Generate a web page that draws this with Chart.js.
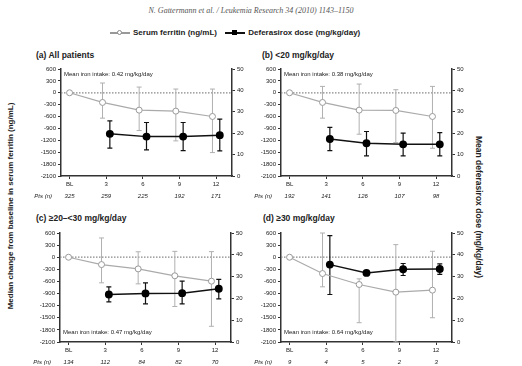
<!DOCTYPE html>
<html>
<head>
<meta charset="utf-8">
<script src="https://cdn.jsdelivr.net/npm/chart.js@4.4.1/dist/chart.umd.min.js"></script>
<style>
  body { margin: 0; background: #fff; width: 522px; height: 366px; overflow: hidden; position: relative; font-family: 'Liberation Sans', Arial, sans-serif; }
  canvas { position: absolute; }
  .txt { position: absolute; white-space: nowrap; color: #222; }
  .hdr { left: 0; width: 502px; top: 6px; text-align: center; font: italic 8px 'Liberation Serif', serif; color: #555; }
  .leg { top: 28px; left: 110px; font-weight: bold; font-size: 8px; }
  .lk { display: inline-block; position: relative; width: 20px; height: 9px; vertical-align: middle; margin-right: 3px; }
  .lk .ln { position: absolute; left: 0; right: 0; top: 4px; height: 1.2px; }
  .lk .mk { position: absolute; left: 7px; top: 2px; width: 5px; height: 5px; box-sizing: border-box; }
  .ptitle { font-weight: bold; font-size: 8.5px; }
  .ytitle { font-weight: bold; font-size: 8px; transform: translate(-50%, -50%) rotate(-90deg); }
  .y2title { font-weight: bold; font-size: 8.5px; transform: translate(-50%, -50%) rotate(90deg); }
</style>
</head>
<body>
<div class="txt hdr">N. Gattermann et al. / Leukemia Research 34 (2010) 1143–1150</div>
<div class="txt leg">
  <span class="lk"><i class="ln" style="background:#999"></i><i class="mk" style="border:1px solid #888;background:#fff;border-radius:50%"></i></span>Serum ferritin (ng/mL)
  <span class="lk" style="margin-left:6px"><i class="ln" style="background:#111"></i><i class="mk" style="background:#000"></i></span>Deferasirox dose (mg/kg/day)
</div>
<div class="txt ptitle" style="left:36px;top:50px">(a) All patients</div>
<div class="txt ptitle" style="left:262px;top:50px">(b) &lt;20 mg/kg/day</div>
<div class="txt ptitle" style="left:36px;top:213px">(c) ≥20–&lt;30 mg/kg/day</div>
<div class="txt ptitle" style="left:263px;top:213px">(d) ≥30 mg/kg/day</div>
<div class="txt ytitle" style="left:10px;top:206px">Median change from baseline in serum ferritin (ng/mL)</div>
<div class="txt y2title" style="left:479px;top:207px">Mean deferasirox dose (mg/kg/day)</div>

<canvas id="pa" width="240" height="138" style="left:20px;top:62px"></canvas>
<canvas id="pb" width="240" height="138" style="left:240px;top:62px"></canvas>
<canvas id="pc" width="240" height="140" style="left:19px;top:226px"></canvas>
<canvas id="pd" width="240" height="140" style="left:240px;top:226px"></canvas>

<script>
const months = [0, 3, 6, 9, 12];
const monthLabels = ['BL', '3', '6', '9', '12'];
const ferritinTicks = [600, 300, 0, -300, -600, -900, -1200, -1500, -1800, -2100];
const doseTicks = [0, 10, 20, 30, 40, 50];

// (a) all patients
const ferritinA = [0, -244, -438, -463, -598];
const ferritinLoA = [null, -640, -953, -1214, -1509];
const ferritinHiA = [null, 246, 144, 94, 94];
const doseA = [null, 19.7, 18.4, 18.4, 19.1];
const doseLoA = [null, 13, 12.2, 11.9, 11.7];
const doseHiA = [null, 25.8, 25, 25, 26.6];
const ptsA = [325, 259, 225, 192, 171];

// (b) <20
const ferritinB = [0, -244, -438, -446, -598];
const ferritinLoB = [null, -640, -1045, -1256, -1400];
const ferritinHiB = [null, 161, 220, 77, 161];
const doseB = [null, 17.3, 15.3, 14.8, 14.8];
const doseLoB = [null, 11.9, 9.4, 9.4, 9.4];
const doseHiB = [null, 22.7, 20.8, 20, 20.3];
const ptsB = [192, 141, 126, 107, 98];

// (c) >=20-<30
const ferritinC = [0, -182, -289, -460, -593];
const ferritinLoC = [null, -634, -660, -1220, -1711];
const ferritinHiC = [null, 477, 135, 145, 139];
const doseC = [null, 21.8, 22.3, 22.4, 24.4];
const doseLoC = [null, 18.4, 17.5, 17.5, 19.8];
const doseHiC = [null, 25.3, 27.1, 27.9, 28.7];
const ptsC = [134, 112, 84, 82, 70];

// (d) >=30
const ferritinD = [0, -404, -676, -865, -816];
const ferritinLoD = [null, -733, -1622, -2100, -1499];
const ferritinHiD = [null, 600, -536, 312, 147];
const doseD = [null, 35.5, 31.7, 33.4, 33.5];
const doseLoD = [null, 21.8, 30.8, 30.5, 31];
const doseHiD = [null, 48.8, 32.5, 36, 35.8];
const ptsD = [9, 4, 5, 2, 3];

const ironIntake = ['0.42', '0.38', '0.47', '0.64'];

const FONT = "'Liberation Sans', Arial, sans-serif";
const AX = '#333';

function points(vals, lo, hi, shift) {
    const out = [];
    months.forEach((m, i) => {
        if (vals[i] === null) return;
        out.push({ x: m === 0 ? 0 : m + shift, y: vals[i], lo: lo[i], hi: hi[i] });
    });
    return out;
}

const panelExtras = {
    id: 'panelExtras',
    beforeDatasetsDraw(chart) {
        const ctx = chart.ctx, a = chart.chartArea;
        const ys = chart.scales.y;
        // dotted zero line
        const y0 = ys.getPixelForValue(0);
        ctx.save();
        ctx.strokeStyle = '#888';
        ctx.lineWidth = 1.2;
        ctx.setLineDash([1.5, 1.5]);
        ctx.beginPath();
        ctx.moveTo(a.left, y0);
        ctx.lineTo(a.right, y0);
        ctx.stroke();
        ctx.setLineDash([]);
        // error bars
        chart.data.datasets.forEach((ds, di) => {
            const meta = chart.getDatasetMeta(di);
            const sc = chart.scales[ds.yAxisID];
            ctx.strokeStyle = ds.errColor;
            ctx.lineWidth = ds.errWidth;
            meta.data.forEach((el, j) => {
                const p = ds.data[j];
                if (p.lo === null || p.lo === undefined) return;
                const yt = sc.getPixelForValue(p.hi), yb = sc.getPixelForValue(p.lo);
                ctx.beginPath();
                ctx.moveTo(el.x, yt); ctx.lineTo(el.x, yb);
                ctx.moveTo(el.x - 2.5, yt); ctx.lineTo(el.x + 2.5, yt);
                ctx.moveTo(el.x - 2.5, yb); ctx.lineTo(el.x + 2.5, yb);
                ctx.stroke();
            });
        });
        ctx.restore();
    },
    afterDraw(chart) {
        const ctx = chart.ctx, a = chart.chartArea;
        const xs = chart.scales.x;
        const o = chart.options.plugins.panelExtras;
        ctx.save();
        ctx.fillStyle = '#222';
        ctx.font = 'italic 6px ' + FONT;
        ctx.textBaseline = 'middle';
        ctx.textAlign = 'right';
        ctx.fillText('Pts (n)', a.left - 9, a.bottom + 20);
        ctx.textAlign = 'center';
        o.pts.forEach((n, i) => ctx.fillText(String(n), xs.getPixelForValue(months[i]), a.bottom + 20));
        ctx.font = '6px ' + FONT;
        ctx.textAlign = 'left';
        const ty = o.intakeTop ? a.top + 5 : a.bottom - 9.5;
        ctx.fillText('Mean iron intake: ' + o.intake + ' mg/kg/day', a.left + 3, ty);
        ctx.restore();
    }
};

function makePanel(id, ferr, fLo, fHi, dose, dLo, dHi, pts, intake, intakeTop) {
    const tickFont = { family: FONT, size: 6 };
    return new Chart(document.getElementById(id), {
        type: 'line',
        data: {
            datasets: [{
                label: 'Deferasirox dose (mg/kg/day)',
                data: points(dose, dLo, dHi, 0.3),
                yAxisID: 'y2',
                order: 0,
                borderColor: '#111',
                borderWidth: 1.5,
                pointRadius: 3.2,
                pointBackgroundColor: '#000',
                pointBorderColor: '#000',
                errColor: '#111',
                errWidth: 1.2
            }, {
                label: 'Serum ferritin (ng/mL)',
                data: points(ferr, fLo, fHi, -0.3),
                yAxisID: 'y',
                order: 1,
                borderColor: '#aaa',
                borderWidth: 1.2,
                pointRadius: 3,
                pointBackgroundColor: '#fff',
                pointBorderColor: '#999',
                pointBorderWidth: 1,
                errColor: '#b0b0b0',
                errWidth: 1
            }]
        },
        options: {
            responsive: false,
            animation: false,
            layout: { padding: { top: 7, left: 0, right: 0, bottom: 0 } },
            plugins: {
                legend: { display: false },
                tooltip: { enabled: false },
                panelExtras: { pts: pts, intake: intake, intakeTop: intakeTop }
            },
            scales: {
                x: {
                    type: 'linear', min: -0.7, max: 13.3,
                    afterBuildTicks: s => { s.ticks = months.map(v => ({ value: v })); },
                    afterFit: s => { s.height = 24; },
                    ticks: {
                        callback: v => monthLabels[months.indexOf(v)],
                        font: tickFont, color: '#222', padding: 2, maxRotation: 0, autoSkip: false
                    },
                    grid: { display: true, drawOnChartArea: false, tickLength: 3, color: AX, lineWidth: 1 },
                    border: { color: AX, width: 1.5 }
                },
                y: {
                    position: 'left', min: -2100, max: 600,
                    afterBuildTicks: s => { s.ticks = ferritinTicks.map(v => ({ value: v })); },
                    afterFit: s => { s.width = 41; },
                    ticks: { callback: v => String(v), font: tickFont, color: '#222', padding: 2 },
                    grid: { display: true, drawOnChartArea: false, tickLength: 3, color: AX, lineWidth: 1 },
                    border: { color: AX, width: 1.5 }
                },
                y2: {
                    position: 'right', min: 0, max: 50,
                    afterBuildTicks: s => { s.ticks = doseTicks.map(v => ({ value: v })); },
                    afterFit: s => { s.width = 28; },
                    ticks: { callback: v => String(v), font: tickFont, color: '#222', padding: 2 },
                    grid: { display: true, drawOnChartArea: false, tickLength: 3, color: AX, lineWidth: 1 },
                    border: { color: AX, width: 1.5 }
                }
            }
        },
        plugins: [panelExtras]
    });
}

makePanel('pa', ferritinA, ferritinLoA, ferritinHiA, doseA, doseLoA, doseHiA, ptsA, ironIntake[0], true);
makePanel('pb', ferritinB, ferritinLoB, ferritinHiB, doseB, doseLoB, doseHiB, ptsB, ironIntake[1], true);
makePanel('pc', ferritinC, ferritinLoC, ferritinHiC, doseC, doseLoC, doseHiC, ptsC, ironIntake[2], false);
makePanel('pd', ferritinD, ferritinLoD, ferritinHiD, doseD, doseLoD, doseHiD, ptsD, ironIntake[3], false);
</script>
</body>
</html>
